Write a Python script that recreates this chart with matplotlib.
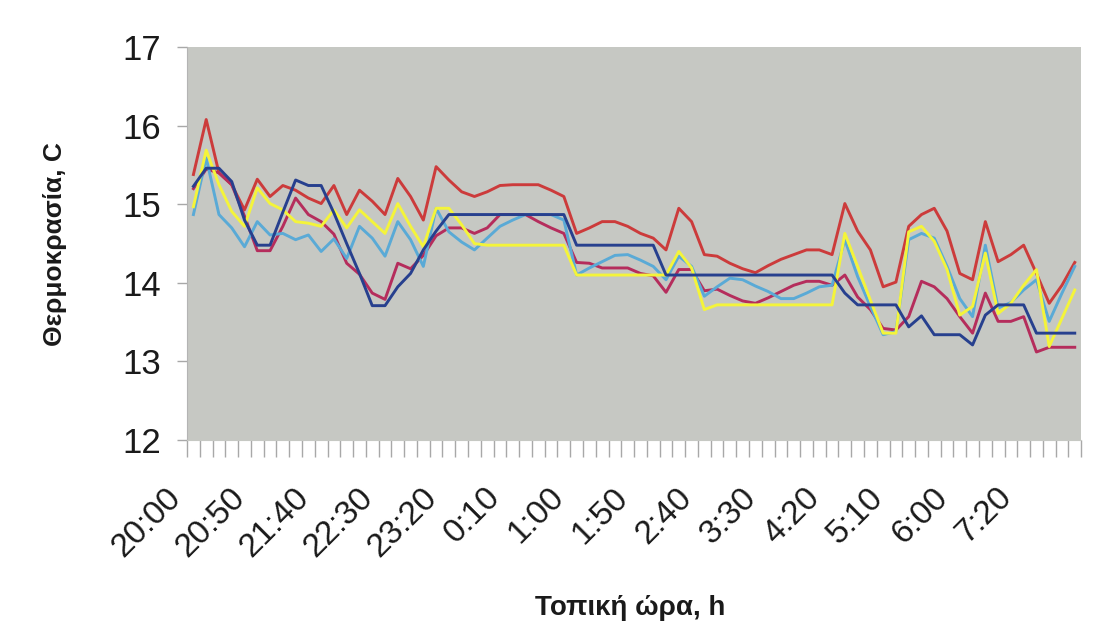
import numpy as np
import matplotlib.pyplot as plt
from matplotlib.transforms import ScaledTranslation

plt.rcParams['font.family'] = ['Liberation Sans', 'DejaVu Sans']

# tick labels shown on the category axis (every 5th reading)
time_labels = ['20:00', '20:50', '21:40', '22:30', '23:20', '0:10', '1:00',
               '1:50', '2:40', '3:30', '4:20', '5:10', '6:00', '7:20']

# temperature readings, C (five sensors)
red = [15.38, 16.08, 15.40, 15.25, 14.93, 15.32, 15.10, 15.24, 15.18, 15.08,
       15.01, 15.24, 14.87, 15.18, 15.04, 14.87, 15.33, 15.10, 14.80, 15.48,
       15.31, 15.16, 15.10, 15.16, 15.24, 15.25, 15.25, 15.25, 15.18, 15.10,
       14.63, 14.70, 14.78, 14.78, 14.72, 14.63, 14.57, 14.42, 14.95, 14.78,
       14.36, 14.34, 14.25, 14.18, 14.13, 14.22, 14.30, 14.36, 14.42, 14.42,
       14.36, 15.01, 14.66, 14.42, 13.95, 14.01, 14.72, 14.87, 14.95, 14.66,
       14.12, 14.04, 14.78, 14.27, 14.36, 14.48, 14.12, 13.74, 13.97, 14.26]

navy = [15.23, 15.46, 15.46, 15.29, 14.80, 14.48, 14.48, 14.90, 15.31, 15.24,
        15.24, 14.89, 14.50, 14.12, 13.71, 13.71, 13.95, 14.12, 14.42, 14.66,
        14.87, 14.87, 14.87, 14.87, 14.87, 14.87, 14.87, 14.87, 14.87, 14.87,
        14.48, 14.48, 14.48, 14.48, 14.48, 14.48, 14.48, 14.10, 14.10, 14.10,
        14.10, 14.10, 14.10, 14.10, 14.10, 14.10, 14.10, 14.10, 14.10, 14.10,
        14.10, 13.87, 13.72, 13.72, 13.72, 13.72, 13.44, 13.58, 13.34, 13.34,
        13.34, 13.21, 13.59, 13.72, 13.72, 13.72, 13.36, 13.36, 13.36, 13.36]

magenta = [15.20, 15.45, 15.40, 15.25, 14.85, 14.41, 14.41, 14.72, 15.08, 14.87,
           14.78, 14.62, 14.25, 14.11, 13.87, 13.79, 14.25, 14.18, 14.35, 14.60,
           14.70, 14.70, 14.63, 14.70, 14.87, 14.87, 14.87, 14.78, 14.70, 14.63,
           14.26, 14.25, 14.19, 14.19, 14.19, 14.12, 14.09, 13.88, 14.17, 14.17,
           13.90, 13.92, 13.84, 13.77, 13.74, 13.81, 13.89, 13.97, 14.02, 14.02,
           13.97, 14.10, 13.82, 13.66, 13.42, 13.40, 13.57, 14.02, 13.95, 13.80,
           13.57, 13.36, 13.87, 13.51, 13.51, 13.57, 13.12, 13.18, 13.18, 13.18]

yellow = [14.97, 15.69, 15.25, 14.91, 14.72, 15.21, 15.01, 14.93, 14.78, 14.76,
          14.72, 14.93, 14.70, 14.93, 14.78, 14.63, 15.01, 14.72, 14.46, 14.95,
          14.95, 14.74, 14.50, 14.48, 14.48, 14.48, 14.48, 14.48, 14.48, 14.48,
          14.10, 14.10, 14.10, 14.10, 14.10, 14.10, 14.10, 14.10, 14.40, 14.19,
          13.66, 13.72, 13.72, 13.72, 13.72, 13.72, 13.72, 13.72, 13.72, 13.72,
          13.72, 14.63, 14.21, 13.78, 13.36, 13.36, 14.65, 14.72, 14.53, 14.17,
          13.59, 13.70, 14.38, 13.61, 13.74, 13.97, 14.17, 13.19, 13.55, 13.91]

cyan = [14.87, 15.59, 14.87, 14.70, 14.46, 14.78, 14.61, 14.63, 14.55, 14.61,
        14.40, 14.56, 14.31, 14.72, 14.57, 14.34, 14.78, 14.55, 14.21, 14.95,
        14.65, 14.52, 14.42, 14.57, 14.72, 14.80, 14.87, 14.87, 14.87, 14.80,
        14.10, 14.19, 14.27, 14.35, 14.36, 14.29, 14.21, 14.04, 14.34, 14.21,
        13.83, 13.95, 14.06, 14.04, 13.96, 13.89, 13.80, 13.80, 13.87, 13.95,
        13.97, 14.55, 14.08, 13.70, 13.34, 13.38, 14.55, 14.63, 14.57, 14.21,
        13.80, 13.57, 14.48, 13.68, 13.75, 13.91, 14.04, 13.51, 13.87, 14.21]

series = [
    (red, '#cc3b3b', 2),
    (magenta, '#b52d5c', 3),
    (cyan, '#5aaad6', 4),
    (yellow, '#f4f43a', 5),
    (navy, '#27408e', 6),
]

fig = plt.figure(figsize=(11.1, 6.39), dpi=100, facecolor='white')
ax = fig.add_axes([0.1685, 0.3115, 0.8055, 0.6145])
ax.set_facecolor('#c6c8c3')

n = len(red)
x = np.arange(n)
for vals, col, z in series:
    ax.plot(x, vals, color=col, lw=2.1, zorder=z)

ax.set_xlim(-0.5, n - 0.5)
ax.set_ylim(12, 17)

for s in ['top', 'right']:
    ax.spines[s].set_visible(False)
ax.spines['left'].set_color('#b4b4b4')
ax.spines['bottom'].set_color('#c6c8c3')

# tick marks on category boundaries, labels every 5th category
ax.set_xticks(np.arange(-0.5, n, 1.0))
ax.set_xticklabels([])
ax.tick_params(axis='x', which='major', length=12, width=1, color='#a8a8a8', direction='out')
lab_pos = np.arange(0, n, 5)[:len(time_labels)]
ax.set_xticks(lab_pos, minor=True)
ax.set_xticklabels(time_labels, minor=True, rotation=45, ha='right', va='center',
                   rotation_mode='anchor', fontsize=24, color='#1a1a1a')
ax.tick_params(axis='x', which='minor', length=0, pad=38)
for lab in ax.get_xticklabels(minor=True):
    lab.set_transform(lab.get_transform() + ScaledTranslation(-0.17, 0, fig.dpi_scale_trans))

ax.set_yticks(np.arange(12, 18, 1))
ax.tick_params(axis='y', length=7, width=1, color='#a8a8a8', labelsize=25,
               labelcolor='#1a1a1a', pad=12)

ax.set_ylabel('Θερμοκρασία, C', fontsize=19, fontweight='bold', color='#1a1a1a')
ax.yaxis.set_label_coords(-0.134, 0.5)
ax.set_xlabel('Τοπική ώρα, h', fontsize=20, fontweight='bold', color='#1a1a1a')
ax.xaxis.set_label_coords(0.496, -0.395)

fig.savefig('out.png', dpi=100, facecolor='white')
